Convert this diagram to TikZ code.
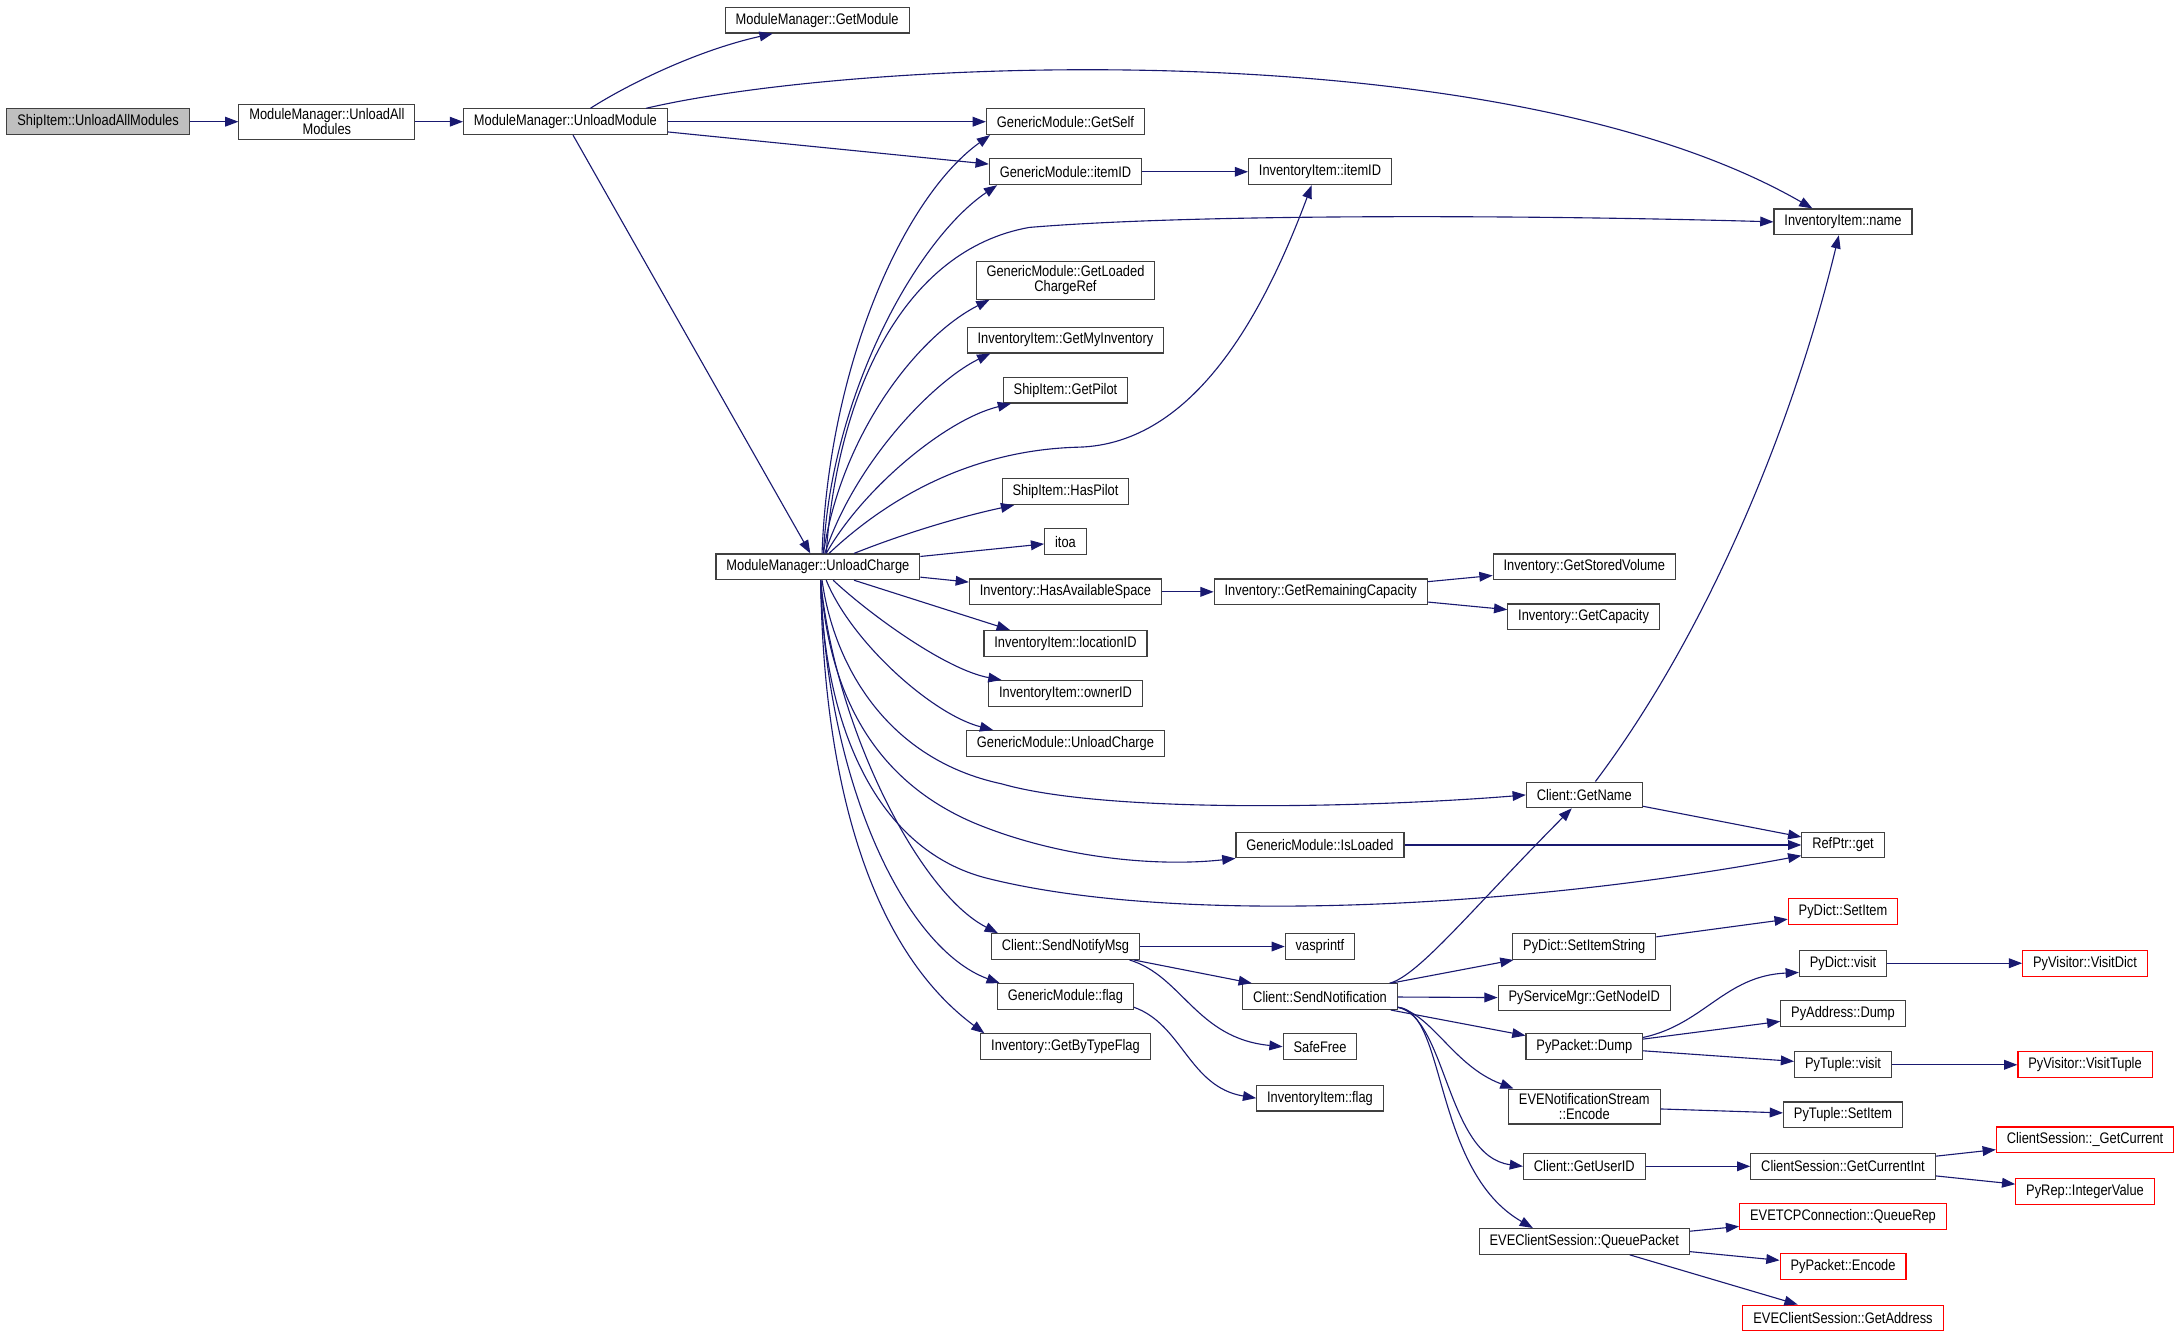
\documentclass[tikz,border=0pt]{standalone}
\usepackage{fontspec}
\setmainfont{Liberation Sans}[FakeStretch=0.84]
\usetikzlibrary{arrows.meta}
\definecolor{edgeblue}{HTML}{191970}
\definecolor{boxgray}{HTML}{404040}
\definecolor{rootfill}{HTML}{BFBFBF}
\begin{document}
\begin{tikzpicture}[x=1pt,y=1pt,
    fn/.style={draw=boxgray,line width=0.8pt,fill=white,inner xsep=7.5pt,inner ysep=3pt,
      minimum height=18.5pt,align=center,font=\fontsize{11}{11}\selectfont},
    root/.style={fn,fill=rootfill},
    ext/.style={fn,draw=red},
    >={Triangle[length=9.5pt,width=7pt]}]
      \useasboundingbox (0,1.5) rectangle (1568,-958.5);
      \draw
        (70.5,-86) node[root] (shipUnloadAll){ShipItem::UnloadAllModules}
        (235,-86) node[fn] (mmUnloadAll){ModuleManager::UnloadAll\\Modules}
        (406.5,-86) node[fn] (mmUnloadModule){ModuleManager::UnloadModule}
        (587.5,-13) node[fn] (mmGetModule){ModuleManager::GetModule}
        (766,-86) node[fn] (gmGetSelf){GenericModule::GetSelf}
        (766,-122) node[fn] (gmItemID){GenericModule::itemID}
        (949,-122) node[fn] (iiItemID){InventoryItem::itemID}
        (1325,-158) node[fn] (iiName){InventoryItem::name}
        (766,-200) node[fn] (gmGetLoaded){GenericModule::GetLoaded\\ChargeRef}
        (766,-243) node[fn] (iiGetMyInv){InventoryItem::GetMyInventory}
        (766,-279) node[fn] (siGetPilot){ShipItem::GetPilot}
        (766,-352) node[fn] (siHasPilot){ShipItem::HasPilot}
        (766,-388) node[fn] (itoa){itoa}
        (588,-406) node[fn] (mmUnloadCharge){ModuleManager::UnloadCharge}
        (766,-424) node[fn] (invHasSpace){Inventory::HasAvailableSpace}
        (949.5,-424) node[fn] (invRemCap){Inventory::GetRemainingCapacity}
        (1139,-406) node[fn] (invStoredVol){Inventory::GetStoredVolume}
        (1138.5,-442) node[fn] (invCap){Inventory::GetCapacity}
        (766,-461) node[fn] (iiLocationID){InventoryItem::locationID}
        (766,-497) node[fn] (iiOwnerID){InventoryItem::ownerID}
        (766,-533) node[fn] (gmUnloadCharge){GenericModule::UnloadCharge}
        (1139,-570) node[fn] (clGetName){Client::GetName}
        (949,-606) node[fn] (gmIsLoaded){GenericModule::IsLoaded}
        (1325,-606) node[fn] (refGet){RefPtr::get}
        (1325,-654) node[ext] (pdSetItem){PyDict::SetItem}
        (766,-679) node[fn] (clSendNotifyMsg){Client::SendNotifyMsg}
        (949,-679) node[fn] (vasprintf){vasprintf}
        (1139,-679) node[fn] (pdSetItemString){PyDict::SetItemString}
        (1325,-691) node[fn] (pdVisit){PyDict::visit}
        (1499,-691) node[ext] (pvVisitDict){PyVisitor::VisitDict}
        (766,-715) node[fn] (gmFlag){GenericModule::flag}
        (949,-715) node[fn] (clSendNotif){Client::SendNotification}
        (1139,-716) node[fn] (psmGetNodeID){PyServiceMgr::GetNodeID}
        (1325,-727) node[fn] (paDump){PyAddress::Dump}
        (1139,-751) node[fn] (ppDump){PyPacket::Dump}
        (949,-751) node[fn] (safeFree){SafeFree}
        (766,-751) node[fn] (invGetByType){Inventory::GetByTypeFlag}
        (1325,-764) node[fn] (ptVisit){PyTuple::visit}
        (1499,-764) node[ext] (pvVisitTuple){PyVisitor::VisitTuple}
        (949,-788) node[fn] (iiFlag){InventoryItem::flag}
        (1139,-794) node[fn] (ensEncode){EVENotificationStream\\::Encode}
        (1325,-800) node[fn] (ptSetItem){PyTuple::SetItem}
        (1499,-818) node[ext] (csGetCurrent){ClientSession::\_GetCurrent}
        (1139,-837) node[fn] (clGetUserID){Client::GetUserID}
        (1325,-837) node[fn] (csGetCurrentInt){ClientSession::GetCurrentInt}
        (1499,-855) node[ext] (prIntegerValue){PyRep::IntegerValue}
        (1325,-873) node[ext] (tcpQueueRep){EVETCPConnection::QueueRep}
        (1139,-891) node[fn] (csQueuePacket){EVEClientSession::QueuePacket}
        (1325,-909) node[ext] (ppEncode){PyPacket::Encode}
        (1325,-946) node[ext] (csGetAddress){EVEClientSession::GetAddress};
      \begin{scope}[->,draw=edgeblue,line width=0.8pt]
        % ModuleManager::UnloadModule
        \draw (shipUnloadAll) to (mmUnloadAll);
        \draw (mmUnloadAll) to (mmUnloadModule);
        \draw ([xshift=18pt]mmUnloadModule.north) .. controls (450,-60) and (500,-35) .. ([xshift=-32pt]mmGetModule.south);
        \draw ([xshift=58pt]mmUnloadModule.north) .. controls (620,-40) and (1080,-20) .. ([xshift=-22pt]iiName.north);
        \draw (mmUnloadModule) to (gmGetSelf);
        \draw (mmUnloadModule) to (gmItemID);
        \draw (mmUnloadModule) to (mmUnloadCharge);
        % ModuleManager::UnloadCharge, upper fan
        \draw ([xshift=3pt]mmUnloadCharge.north) .. controls (596,-260) and (650,-140) .. ([xshift=3pt]gmGetSelf.south west);
        \draw ([xshift=4pt]mmUnloadCharge.north) .. controls (598,-280) and (660,-170) .. ([xshift=6pt]gmItemID.south west);
        \draw ([xshift=6pt]mmUnloadCharge.north) .. controls (602,-280) and (650,-178) .. (740,-162) .. controls (860,-152) and (1100,-153) .. (iiName.west);
        \draw ([xshift=4pt]mmUnloadCharge.north) .. controls (605,-310) and (660,-240) .. ([xshift=10pt]gmGetLoaded.south west);
        \draw ([xshift=5pt]mmUnloadCharge.north) .. controls (615,-330) and (672,-272) .. ([xshift=17pt]iiGetMyInv.south west);
        \draw ([xshift=6pt]mmUnloadCharge.north) .. controls (620,-350) and (680,-300) .. ([xshift=6pt]siGetPilot.south west);
        \draw ([xshift=8pt]mmUnloadCharge.north) .. controls (640,-355) and (700,-322) .. (775,-320) .. controls (860,-318) and (910,-220) .. ([xshift=-6pt]iiItemID.south);
        \draw ([xshift=26pt]mmUnloadCharge.north) .. controls (650,-382) and (690,-370) .. ([xshift=9pt]siHasPilot.south west);
        \draw (mmUnloadCharge) to (itoa);
        \draw (mmUnloadCharge) to (invHasSpace);
        % ModuleManager::UnloadCharge, lower fan
        \draw ([xshift=26pt]mmUnloadCharge.south) to ([xshift=-40pt]iiLocationID.north);
        \draw ([xshift=11pt]mmUnloadCharge.south) .. controls (625,-440) and (680,-480) .. ([xshift=-46pt]iiOwnerID.north);
        \draw ([xshift=6pt]mmUnloadCharge.south) .. controls (612,-460) and (670,-512) .. ([xshift=-52pt]gmUnloadCharge.north);
        \draw ([xshift=3pt]mmUnloadCharge.south) .. controls (600,-480) and (640,-545) .. (720,-562) .. controls (800,-585) and (1000,-578) .. (clGetName.west);
        \draw ([xshift=2pt]mmUnloadCharge.south) .. controls (596,-500) and (630,-560) .. (700,-590) .. controls (760,-615) and (830,-622) .. (gmIsLoaded.south west);
        \draw ([xshift=2pt]mmUnloadCharge.south) .. controls (592,-520) and (630,-610) .. (710,-630) .. controls (850,-665) and (1100,-650) .. ([yshift=2pt]refGet.south west);
        \draw ([xshift=2pt]mmUnloadCharge.south) .. controls (600,-520) and (660,-640) .. ([xshift=5pt]clSendNotifyMsg.north west);
        \draw ([xshift=2pt]mmUnloadCharge.south) .. controls (594,-560) and (650,-680) .. ([xshift=2pt]gmFlag.north west);
        \draw ([xshift=2pt]mmUnloadCharge.south) .. controls (592,-560) and (625,-680) .. ([xshift=3pt]invGetByType.north west);
        % third level
        \draw (gmItemID) to (iiItemID);
        \draw (invHasSpace) to (invRemCap);
        \draw (invRemCap) to (invStoredVol);
        \draw (invRemCap) to (invCap);
        \draw ([xshift=8pt]clGetName.north) .. controls (1230,-450) and (1290,-300) .. ([xshift=-3pt]iiName.south);
        \draw (clGetName) to (refGet);
        \draw (gmIsLoaded) to (refGet);
        \draw (clSendNotifyMsg) to (vasprintf);
        \draw (clSendNotifyMsg) to (clSendNotif);
        \draw ([xshift=46pt]clSendNotifyMsg.south) .. controls (850,-700) and (860,-745) .. (safeFree.west);
        \draw ([yshift=2pt]gmFlag.south east) .. controls (850,-735) and (855,-780) .. (iiFlag.west);
        % Client::SendNotification
        \draw ([xshift=50pt]clSendNotif.north) .. controls (1020,-700) and (1060,-650) .. ([xshift=-9pt]clGetName.south);
        \draw (clSendNotif) to (pdSetItemString);
        \draw (clSendNotif) to (psmGetNodeID);
        \draw (clSendNotif) to (ppDump);
        \draw ([yshift=2pt]clSendNotif.south east) .. controls (1030,-728) and (1045,-765) .. ([xshift=4pt]ensEncode.north west);
        \draw ([yshift=2pt]clSendNotif.south east) .. controls (1040,-730) and (1040,-830) .. (clGetUserID.west);
        \draw ([yshift=2pt]clSendNotif.south east) .. controls (1040,-725) and (1030,-840) .. ([xshift=39pt]csQueuePacket.north west);
        \draw (pdSetItemString) to (pdSetItem);
        \draw ([yshift=-3pt]ppDump.north east) .. controls (1225,-735) and (1240,-700) .. ([yshift=3pt]pdVisit.south west);
        \draw (ppDump) to (paDump);
        \draw (ppDump) to (ptVisit);
        \draw (pdVisit) to (pvVisitDict);
        \draw (ptVisit) to (pvVisitTuple);
        \draw (ensEncode) to (ptSetItem);
        \draw (clGetUserID) to (csGetCurrentInt);
        \draw (csGetCurrentInt) to (csGetCurrent);
        \draw (csGetCurrentInt) to (prIntegerValue);
        \draw (csQueuePacket) to (tcpQueueRep);
        \draw (csQueuePacket) to (ppEncode);
        \draw (csQueuePacket) to (csGetAddress);
      \end{scope}
    \end{tikzpicture}
\end{document}
